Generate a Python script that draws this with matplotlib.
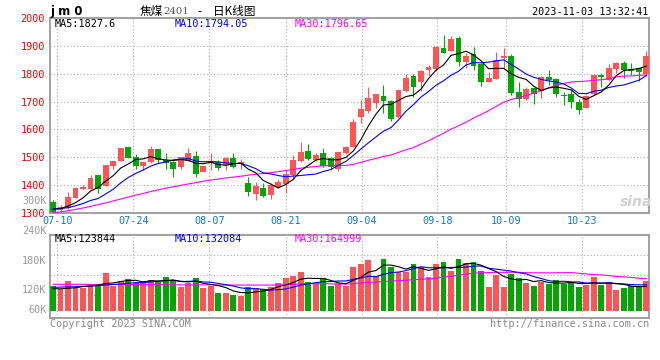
import matplotlib
matplotlib.use('Agg')
import matplotlib.pyplot as plt
import numpy as np
import pandas as pd

plt.rcParams['font.family'] = ['DejaVu Sans Mono']

# jm2401 daily k-line, 80 sessions (07-07 .. 11-03)
opens = [1338, 1311, 1317, 1355, 1386, 1387, 1435, 1397, 1469, 1487,
         1536, 1501, 1469, 1483, 1530, 1489, 1484, 1466, 1487, 1505,
         1448, 1480, 1484, 1472, 1499, 1475, 1407, 1368, 1389, 1365,
         1395, 1404, 1435, 1487, 1523, 1491, 1514, 1499, 1457, 1514,
         1538, 1646, 1666, 1696, 1720, 1702, 1643, 1738, 1792, 1771,
         1813, 1817, 1891, 1883, 1929, 1843, 1871, 1834, 1771, 1781,
         1855, 1864, 1736, 1709, 1747, 1739, 1787, 1781, 1724, 1727,
         1700, 1678, 1727, 1795, 1777, 1816, 1837, 1817, 1819, 1798]
highs = [1347, 1327, 1374, 1395, 1400, 1437, 1436, 1473, 1488, 1532,
         1537, 1511, 1483, 1541, 1530, 1517, 1486, 1501, 1535, 1522,
         1470, 1514, 1490, 1502, 1514, 1494, 1430, 1413, 1407, 1407,
         1422, 1454, 1508, 1556, 1548, 1514, 1535, 1502, 1520, 1542,
         1637, 1706, 1751, 1727, 1759, 1706, 1742, 1798, 1798, 1813,
         1831, 1899, 1939, 1935, 1935, 1876, 1897, 1837, 1807, 1879,
         1891, 1870, 1771, 1753, 1747, 1792, 1813, 1783, 1736, 1742,
         1708, 1724, 1798, 1801, 1834, 1843, 1846, 1837, 1822, 1881]
lows = [1303, 1307, 1314, 1354, 1385, 1386, 1371, 1396, 1459, 1486,
        1497, 1458, 1454, 1478, 1478, 1459, 1430, 1457, 1485, 1430,
        1448, 1455, 1455, 1454, 1463, 1457, 1362, 1347, 1359, 1350,
        1389, 1373, 1419, 1482, 1491, 1488, 1466, 1457, 1452, 1511,
        1536, 1622, 1660, 1676, 1658, 1631, 1640, 1736, 1718, 1738,
        1793, 1811, 1873, 1880, 1829, 1819, 1813, 1757, 1771, 1780,
        1822, 1724, 1682, 1706, 1691, 1714, 1759, 1718, 1688, 1678,
        1655, 1676, 1724, 1751, 1775, 1804, 1783, 1795, 1775, 1793]
closes = [1305, 1323, 1359, 1391, 1394, 1427, 1387, 1472, 1488, 1532,
          1499, 1469, 1483, 1530, 1490, 1481, 1459, 1500, 1515, 1440,
          1470, 1484, 1463, 1499, 1466, 1482, 1377, 1397, 1362, 1401,
          1413, 1440, 1490, 1518, 1494, 1508, 1469, 1466, 1518, 1537,
          1625, 1673, 1712, 1727, 1702, 1636, 1742, 1783, 1753, 1810,
          1823, 1895, 1876, 1925, 1843, 1864, 1829, 1771, 1783, 1849,
          1864, 1732, 1708, 1745, 1727, 1787, 1777, 1727, 1720, 1700,
          1670, 1721, 1795, 1787, 1822, 1840, 1813, 1811, 1807, 1865]
# volume in thousand lots
volumes = [132.0, 114.4, 160.2, 119.7, 119.7, 142.6, 142.6, 202.4, 132.0, 158.4,
           169.0, 149.6, 158.4, 163.7, 151.4, 179.5, 163.7, 126.7, 146.1, 174.2,
           121.4, 133.8, 95.0, 95.0, 84.5, 79.2, 125.0, 121.4, 116.2, 128.5,
           147.8, 174.2, 184.8, 205.9, 153.1, 140.8, 174.2, 132.0, 142.6, 132.0,
           232.3, 249.9, 269.3, 184.8, 274.6, 234.1, 205.9, 207.7, 248.2, 230.6,
           179.5, 248.2, 258.7, 211.2, 274.6, 253.4, 258.7, 211.2, 126.7, 190.1,
           126.7, 197.1, 174.2, 147.8, 132.0, 151.4, 144.3, 163.7, 144.3, 153.1,
           125.0, 139.0, 179.5, 139.0, 153.1, 110.9, 121.4, 130.2, 126.7, 158.4]

# moving average values before enough sessions are on the chart
ma5_head = [1313, 1316, 1325, 1337]
ma10_head = [1316, 1316, 1319, 1326, 1334, 1345, 1352, 1368, 1385]
ma30_head = [1301, 1304, 1308, 1313, 1318, 1324, 1330, 1336, 1343, 1350,
             1357, 1364, 1370, 1377, 1383, 1389, 1394, 1399, 1404, 1409,
             1414, 1418, 1422, 1426, 1429, 1432, 1436, 1439, 1442]
vma5_head = [118, 117, 120, 123]
vma10_head = [125, 126, 127, 128, 130, 132, 134, 137, 140]
vma30_head = [141, 141, 141, 141, 141, 140, 140, 140, 140, 140,
              140, 139, 139, 139, 139, 139, 138, 138, 138, 138,
              138, 138, 137, 137, 137, 137, 137, 137, 137]

date_labels = ['07-10', '07-24', '08-07', '08-21', '09-04', '09-18', '10-09', '10-23']
date_ticks = [0.57, 10.69, 20.81, 30.98, 41.1, 51.17, 60.28, 70.4]
price_ticks = [1300, 1400, 1500, 1600, 1700, 1800, 1900, 2000]

RED = '#fd5555'
GREEN = '#05a505'
GRID = '#aaaaaa'
FRAME = '#9a9a9a'


def moving_avg(values, n, head):
    s = pd.Series(values, dtype=float).rolling(n).mean()
    s.iloc[:n - 1] = head
    return s.values


W, H = 660, 360
fig = plt.figure(figsize=(6.6, 3.6), dpi=100, facecolor='white')


def fx(px):
    return px / W


def fy(py):
    return 1 - py / H


ax = fig.add_axes([fx(50), fy(213), fx(649.3) - fx(50), fy(18) - fy(213)])
axv = fig.add_axes([fx(50), fy(317.7), fx(649.3) - fx(50), fy(234.7) - fy(317.7)])

x = np.arange(len(closes))
o = np.array(opens, dtype=float)
c = np.array(closes, dtype=float)
hi = np.array(highs, dtype=float)
lo = np.array(lows, dtype=float)
colors = np.where(c >= o, RED, GREEN)

grid_kw = dict(color=GRID, lw=0.8, ls=(0, (1, 2)), zorder=1)

# --- price panel
for p in price_ticks[1:-1]:
    ax.axhline(p, **grid_kw)
for t in date_ticks:
    ax.axvline(t, **grid_kw)
    axv.axvline(t, **grid_kw)

ax.vlines(x, lo, hi, colors=colors, lw=0.8, zorder=3)
body_h = np.maximum(np.abs(c - o), 2.5)
ax.bar(x, body_h, bottom=np.minimum(o, c), width=0.78, color=colors,
       linewidth=0, zorder=4)

ax.plot(x, moving_avg(closes, 30, ma30_head), color='#ff00ff', lw=0.8, zorder=5)
ax.plot(x, moving_avg(closes, 10, ma10_head), color='#0000ff', lw=0.8, zorder=5)
ax.plot(x, moving_avg(closes, 5, ma5_head), color='black', lw=0.8, zorder=5)

ax.set_xlim(-0.4, 79.4)
ax.set_ylim(1300, 2000)
ax.set_yticks(price_ticks)
ax.set_yticklabels([str(p) for p in price_ticks])
ax.tick_params(axis='y', length=0, pad=3.5, labelsize=7.3, labelcolor='#ee0000')
ax.set_xticks(date_ticks)
ax.set_xticklabels(date_labels)
ax.tick_params(axis='x', length=0, pad=2.5, labelsize=7.3, labelcolor='#1177cc')

# --- volume panel
vol_grid = [0.752, 0.511, 0.270]
for f in vol_grid:
    axv.plot([0, 1], [f, f], transform=axv.transAxes, **grid_kw)
axv.bar(x, volumes, width=0.78, color=colors, linewidth=0, zorder=3)
axv.plot(x, moving_avg(volumes, 30, vma30_head), color='#ff00ff', lw=0.8, zorder=5)
axv.plot(x, moving_avg(volumes, 10, vma10_head), color='#0000ff', lw=0.8, zorder=5)
axv.plot(x, moving_avg(volumes, 5, vma5_head), color='black', lw=0.8, zorder=5)
axv.set_xlim(-0.4, 79.4)
axv.set_ylim(-35.4, 402.9)
axv.set_xticks([])
axv.set_yticks([])

for a in (ax, axv):
    for sp in a.spines.values():
        sp.set_color(FRAME)
        sp.set_linewidth(1.3)

# --- texts
mono = dict(fontsize=7.3, va='center')
fig.text(fx(50), fy(12), 'j m 0', fontsize=8.5, fontweight='bold',
         family='DejaVu Sans', va='center', ha='left')
cjk = ['Noto Sans CJK SC', 'DejaVu Sans']
fig.text(fx(140), fy(11.5), '焦煤', fontsize=8.4, family=cjk, va='center')
fig.text(fx(163.5), fy(12), '2401', fontsize=7.3, family='DejaVu Serif',
         color='#555555', va='center')
fig.text(fx(199), fy(11.5), '-', fontsize=8.4, family=cjk, va='center', ha='center')
fig.text(fx(213), fy(11.5), '日K线图', fontsize=8.4, family=cjk, va='center')
fig.text(fx(648), fy(12), '2023-11-03 13:32:41', ha='right', color='black', **mono)

fig.text(fx(55), fy(24), 'MA5:1827.6', color='black', **mono)
fig.text(fx(174.5), fy(24), 'MA10:1794.05', color='#0000ff', **mono)
fig.text(fx(295), fy(24), 'MA30:1796.65', color='#ff00ff', **mono)

fig.text(fx(54.5), fy(238.5), 'MA5:123844', color='black', **mono)
fig.text(fx(175), fy(238.5), 'MA10:132084', color='#0000ff', **mono)
fig.text(fx(295), fy(238.5), 'MA30:164999', color='#ff00ff', **mono)

for lab, py in [('300K', 200.7), ('240K', 231), ('180K', 260.7), ('120K', 290), ('60K', 310)]:
    fig.text(fx(46.5), fy(py), lab, ha='right', color='#999999', **mono)

fig.text(fx(50), fy(324), 'Copyright 2023 SINA.COM', ha='left', color='#888888', **mono)
fig.text(fx(649), fy(324), 'http://finance.sina.com.cn', ha='right', color='#888888', **mono)

fig.text(fx(636), fy(202), 'sina', fontsize=10, style='italic', fontweight='bold',
         family='DejaVu Sans', color='#d0d0d0', ha='center', va='center')

fig.savefig('out.png', dpi=100, facecolor='white')
